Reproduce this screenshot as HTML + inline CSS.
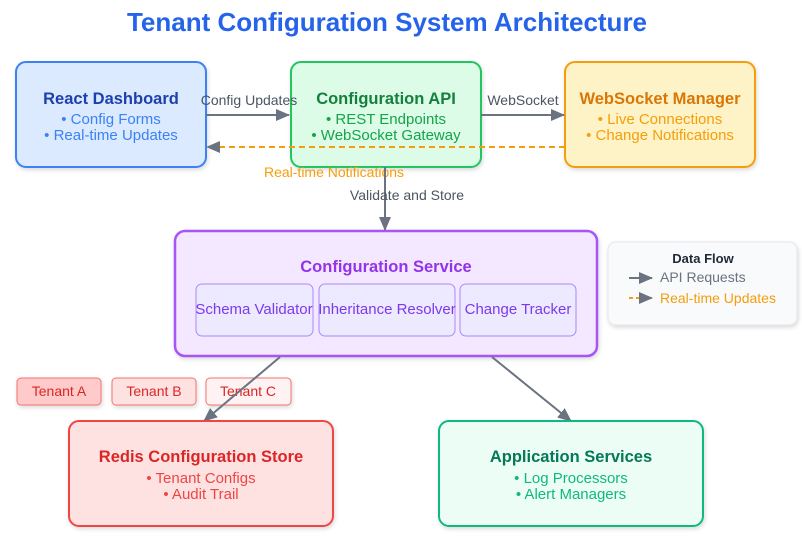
<!DOCTYPE html><html><head><style>body{margin:0;background:#fff}text{font-family:"Liberation Sans",Arial,sans-serif}</style></head><body>
<svg width="802" height="553" viewBox="0 0 802 553" xmlns="http://www.w3.org/2000/svg">
<defs>
<marker id="g" markerWidth="14" markerHeight="12" refX="13" refY="6" orient="auto" markerUnits="userSpaceOnUse"><path d="M0,0L14,6L0,12Z" fill="#6b7280"/></marker>
<filter id="s" x="-10%" y="-10%" width="130%" height="140%"><feDropShadow dx="1" dy="2" stdDeviation="2" flood-opacity="0.15"/></filter>
</defs>
<text x="387" y="31" text-anchor="middle" font-size="26" font-weight="bold" fill="#2563eb">Tenant Configuration System Architecture</text>

<rect x="16" y="62" width="190" height="105" rx="10" fill="#dbeafe" stroke="#3b82f6" stroke-width="2" filter="url(#s)"/>
<text x="111" y="104" text-anchor="middle" font-size="16.5" font-weight="bold" fill="#1e40af">React Dashboard</text>
<text x="111" y="124" text-anchor="middle" font-size="15" fill="#3b82f6">• Config Forms</text>
<text x="111" y="140" text-anchor="middle" font-size="15" fill="#3b82f6">• Real-time Updates</text>

<rect x="291" y="62" width="190" height="105" rx="10" fill="#dcfce7" stroke="#22c55e" stroke-width="2" filter="url(#s)"/>
<text x="386" y="104" text-anchor="middle" font-size="16.5" font-weight="bold" fill="#15803d">Configuration API</text>
<text x="386" y="124" text-anchor="middle" font-size="15" fill="#16a34a">• REST Endpoints</text>
<text x="386" y="140" text-anchor="middle" font-size="15" fill="#16a34a">• WebSocket Gateway</text>

<rect x="565" y="62" width="190" height="105" rx="10" fill="#fef3c7" stroke="#f59e0b" stroke-width="2" filter="url(#s)"/>
<text x="660" y="104" text-anchor="middle" font-size="16.5" font-weight="bold" fill="#d97706">WebSocket Manager</text>
<text x="660" y="124" text-anchor="middle" font-size="15" fill="#f59e0b">• Live Connections</text>
<text x="660" y="140" text-anchor="middle" font-size="15" fill="#f59e0b">• Change Notifications</text>

<line x1="206" y1="115" x2="289" y2="115" stroke="#6b7280" stroke-width="2" marker-end="url(#g)"/>
<text x="249" y="105" text-anchor="middle" font-size="14" fill="#4b5563">Config Updates</text>
<line x1="481" y1="115" x2="564" y2="115" stroke="#6b7280" stroke-width="2" marker-end="url(#g)"/>
<text x="523" y="105" text-anchor="middle" font-size="14" fill="#4b5563">WebSocket</text>
<line x1="565" y1="147" x2="207" y2="147" stroke="#f59e0b" stroke-width="2" stroke-dasharray="6,4" marker-end="url(#g)"/>
<text x="334" y="177" text-anchor="middle" font-size="14" fill="#f59e0b">Real-time Notifications</text>
<line x1="385" y1="167" x2="385" y2="230" stroke="#6b7280" stroke-width="2" marker-end="url(#g)"/>
<text x="407" y="200" text-anchor="middle" font-size="14" fill="#4b5563">Validate and Store</text>

<rect x="175" y="231" width="422" height="125" rx="10" fill="#f3e8ff" stroke="#a855f7" stroke-width="2.5" filter="url(#s)"/>
<text x="386" y="272" text-anchor="middle" font-size="16.5" font-weight="bold" fill="#9333ea">Configuration Service</text>
<rect x="196" y="284" width="117" height="52" rx="6" fill="#ede9fe" stroke="#a78bfa"/>
<text x="254" y="314" text-anchor="middle" font-size="15" fill="#7c3aed">Schema Validator</text>
<rect x="319" y="284" width="136" height="52" rx="6" fill="#ede9fe" stroke="#a78bfa"/>
<text x="387" y="314" text-anchor="middle" font-size="15" fill="#7c3aed">Inheritance Resolver</text>
<rect x="460" y="284" width="116" height="52" rx="6" fill="#ede9fe" stroke="#a78bfa"/>
<text x="518" y="314" text-anchor="middle" font-size="15" fill="#7c3aed">Change Tracker</text>

<rect x="608" y="242" width="189" height="83" rx="8" fill="#f8fafc" stroke="#e5e7eb" filter="url(#s)"/>
<text x="703" y="263" text-anchor="middle" font-size="13" font-weight="bold" fill="#1f2937">Data Flow</text>
<line x1="629" y1="278" x2="652" y2="278" stroke="#6b7280" stroke-width="2" marker-end="url(#g)"/>
<text x="660" y="282" font-size="14" fill="#6b7280">API Requests</text>
<line x1="629" y1="298" x2="652" y2="298" stroke="#f59e0b" stroke-width="2" stroke-dasharray="4,3" marker-end="url(#g)"/>
<text x="660" y="303" font-size="14" fill="#f59e0b">Real-time Updates</text>

<rect x="17" y="378" width="84" height="27" rx="4" fill="#fecaca" stroke="#f87171" filter="url(#s)"/>
<text x="59" y="396" text-anchor="middle" font-size="14" fill="#dc2626">Tenant A</text>
<rect x="112" y="378" width="84" height="27" rx="4" fill="#fee2e2" stroke="#f87171" filter="url(#s)"/>
<text x="154" y="396" text-anchor="middle" font-size="14" fill="#dc2626">Tenant B</text>
<rect x="206" y="378" width="85" height="27" rx="4" fill="#fef2f2" stroke="#f87171" filter="url(#s)"/>
<text x="248" y="396" text-anchor="middle" font-size="14" fill="#dc2626">Tenant C</text>

<line x1="280" y1="357" x2="204" y2="421" stroke="#6b7280" stroke-width="2" marker-end="url(#g)"/>
<line x1="492" y1="357" x2="571" y2="421" stroke="#6b7280" stroke-width="2" marker-end="url(#g)"/>

<rect x="69" y="421" width="264" height="105" rx="10" fill="#fee2e2" stroke="#ef4444" stroke-width="2" filter="url(#s)"/>
<text x="201" y="462" text-anchor="middle" font-size="16.5" font-weight="bold" fill="#dc2626">Redis Configuration Store</text>
<text x="201" y="483" text-anchor="middle" font-size="15" fill="#ef4444">• Tenant Configs</text>
<text x="201" y="499" text-anchor="middle" font-size="15" fill="#ef4444">• Audit Trail</text>

<rect x="439" y="421" width="264" height="105" rx="10" fill="#ecfdf5" stroke="#10b981" stroke-width="2" filter="url(#s)"/>
<text x="571" y="462" text-anchor="middle" font-size="16.5" font-weight="bold" fill="#047857">Application Services</text>
<text x="571" y="483" text-anchor="middle" font-size="15" fill="#10b981">• Log Processors</text>
<text x="571" y="499" text-anchor="middle" font-size="15" fill="#10b981">• Alert Managers</text>
</svg>
</body></html>
